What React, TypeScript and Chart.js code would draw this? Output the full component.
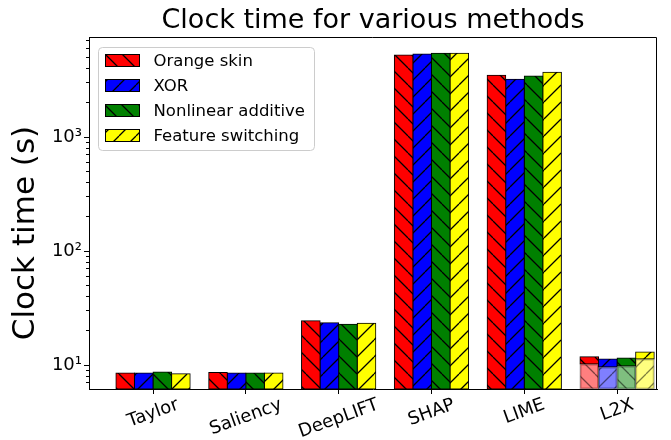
import React, { useEffect, useRef } from 'react';
import { Chart, registerables } from 'chart.js';

Chart.register(...registerables);

// ---------- data ----------
const categories = ['Taylor', 'Saliency', 'DeepLIFT', 'SHAP', 'LIME', 'L2X'];
const seriesNames = ['Orange skin', 'XOR', 'Nonlinear additive', 'Feature switching'];
// base clock time per method (for L2X: lower, lighter part)
const orangeSkin = [8.5, 8.6, 24.5, 5250, 3480, 10.2];
const xor = [8.5, 8.5, 23.5, 5350, 3210, 9.6];
const nonlinearAdditive = [8.7, 8.5, 22.8, 5420, 3430, 9.8];
const featureSwitching = [8.4, 8.5, 23.2, 5420, 3700, 11.3];
// L2X additional time stacked on top (one per series)
const l2xExtra = [1.6, 1.7, 1.7, 1.7];

const yTickValues = [7, 8, 9, 10, 20, 30, 40, 50, 60, 70, 80, 90, 100, 200, 300, 400, 500, 600, 700, 800, 900, 1000, 2000, 3000, 4000, 5000, 6000, 7000];
const yMajorTicks = [10, 100, 1000];
const yMajorLabels = ['10¹', '10²', '10³'];
const yMin = 6.16;
const yMax = 7540;
const xMin = -0.69;
const xMax = 5.43;
const titleText = 'Clock time for various methods';
const yTitleText = 'Clock time (s)';

const seriesColors = ['#ff0000', '#0000ff', '#008000', '#ffff00'];
const seriesFaded = ['rgba(255,0,0,0.5)', 'rgba(0,0,255,0.5)', 'rgba(0,128,0,0.5)', 'rgba(255,255,0,0.5)'];
const seriesHatch = ['\\', '/', '\\', '/'];

const FAMILY = "'DejaVu Sans', sans-serif";

function makeHatch(ctx: any, color: string, dir: string, lineColor: string) {
  const s = 17;
  const c = document.createElement('canvas');
  c.width = s;
  c.height = s;
  const g = c.getContext('2d') as CanvasRenderingContext2D;
  g.fillStyle = color;
  g.fillRect(0, 0, s, s);
  g.strokeStyle = lineColor;
  g.lineWidth = 1.3;
  g.beginPath();
  for (let k = -1; k <= 1; k++) {
    if (dir === '\\') {
      g.moveTo(k * s, 0);
      g.lineTo(k * s + s, s);
    } else {
      g.moveTo(k * s, s);
      g.lineTo(k * s + s, 0);
    }
  }
  g.stroke();
  return ctx.createPattern(c, 'repeat');
}

export default function App() {
  const ref = useRef<HTMLCanvasElement | null>(null);

  useEffect(() => {
    const canvas = ref.current;
    if (!canvas) return;
    const ctx = canvas.getContext('2d') as CanvasRenderingContext2D;

    const full = seriesColors.map((c, j) => makeHatch(ctx, c, seriesHatch[j], '#000'));
    const faded = seriesFaded.map((c, j) => makeHatch(ctx, c, seriesHatch[j], 'rgba(0,0,0,0.5)'));

    const baseSeries = [orangeSkin, xor, nonlinearAdditive, featureSwitching];
    const l2xIndex = categories.indexOf('L2X');

    const common = {
      borderWidth: 1,
      borderSkipped: false,
      categoryPercentage: 0.8,
      barPercentage: 1,
      inflateAmount: 0.5,
    };

    const baseDatasets = baseSeries.map((vals, j) => ({
      label: seriesNames[j],
      data: vals.map((v, i) => ({ x: i, y: v })),
      stack: 's' + j,
      backgroundColor: vals.map((_, i) => (i === l2xIndex ? faded[j] : full[j])),
      borderColor: vals.map((_, i) => (i === l2xIndex ? 'rgba(0,0,0,0.4)' : '#000')),
      ...common,
    }));
    const topDatasets = l2xExtra.map((v, j) => ({
      label: seriesNames[j] + ' (L2X)',
      data: [{ x: l2xIndex, y: v }],
      stack: 's' + j,
      backgroundColor: full[j],
      borderColor: '#000',
      ...common,
    }));

    const legendPlugin = {
      id: 'boxLegend',
      afterDatasetsDraw(chart: any) {
        const c = chart.ctx;
        const a = chart.chartArea;
        const x0 = Math.round(a.left) + 9.5;
        const y0 = Math.round(a.top) + 10.5;
        const w = 216;
        const h = 103;
        c.save();
        c.beginPath();
        const r = 4;
        c.moveTo(x0 + r, y0);
        c.lineTo(x0 + w - r, y0);
        c.arcTo(x0 + w, y0, x0 + w, y0 + r, r);
        c.lineTo(x0 + w, y0 + h - r);
        c.arcTo(x0 + w, y0 + h, x0 + w - r, y0 + h, r);
        c.lineTo(x0 + r, y0 + h);
        c.arcTo(x0, y0 + h, x0, y0 + h - r, r);
        c.lineTo(x0, y0 + r);
        c.arcTo(x0, y0, x0 + r, y0, r);
        c.closePath();
        c.fillStyle = 'rgba(255,255,255,0.8)';
        c.fill();
        c.strokeStyle = '#cccccc';
        c.lineWidth = 1;
        c.stroke();
        c.font = `16.5px ${FAMILY}`;
        c.textBaseline = 'middle';
        c.textAlign = 'left';
        seriesNames.forEach((name, j) => {
          const cy = y0 + 13 + j * 25;
          c.fillStyle = full[j];
          c.fillRect(x0 + 7, cy - 6, 34, 12);
          c.strokeStyle = '#000';
          c.strokeRect(x0 + 7, cy - 6, 34, 12);
          c.fillStyle = '#000';
          c.fillText(name, x0 + 55, cy + 1);
        });
        c.restore();
      },
    };

    const textPlugin = {
      id: 'axisTexts',
      afterDraw(chart: any) {
        const c = chart.ctx;
        const xs = chart.scales.x;
        const fs = 18;
        const ang = (20 * Math.PI) / 180;
        c.save();
        c.font = `${fs}px ${FAMILY}`;
        c.fillStyle = '#000';
        c.textAlign = 'center';
        c.textBaseline = 'middle';
        categories.forEach((lab, i) => {
          const px = xs.getPixelForValue(i);
          const wd = c.measureText(lab).width;
          const bh = wd * Math.sin(ang) + fs * 1.1 * Math.cos(ang);
          const cy = xs.top + 6 + bh / 2;
          c.save();
          c.translate(px, cy);
          c.rotate(-ang);
          c.fillText(lab, 0, 0);
          c.restore();
        });
        // y-axis title
        c.font = `31px ${FAMILY}`;
        c.save();
        c.translate(26, 233);
        c.rotate(-Math.PI / 2);
        c.fillText(yTitleText, 0, 0);
        c.restore();
        c.restore();
      },
    };

    const framePlugin = {
      id: 'frame',
      afterDraw(chart: any) {
        const c = chart.ctx;
        const a = chart.chartArea;
        c.save();
        c.strokeStyle = '#000';
        c.lineWidth = 1;
        c.beginPath();
        const t = Math.round(a.top) + 0.5;
        const rr = Math.round(a.right) - 0.5;
        c.moveTo(Math.round(a.left), t);
        c.lineTo(rr, t);
        c.lineTo(rr, Math.round(a.bottom));
        c.stroke();
        c.restore();
      },
    };

    const chart = new Chart(ctx, {
      type: 'bar',
      data: { datasets: [...baseDatasets, ...topDatasets] as any },
      options: {
        animation: false,
        responsive: false,
        devicePixelRatio: 1,
        layout: { padding: { left: 0, right: 14, top: 0, bottom: 0 } },
        plugins: {
          legend: { display: false },
          tooltip: { enabled: false },
          title: {
            display: true,
            text: titleText,
            color: '#000',
            fullSize: false,
            font: { family: FAMILY, size: 27, weight: 'normal' as any, lineHeight: 1.1 },
            padding: { top: 6, bottom: 1.3 },
          },
        },
        scales: {
          x: {
            type: 'linear',
            offset: false,
            min: xMin,
            max: xMax,
            afterBuildTicks: (s: any) => {
              s.ticks = categories.map((_, i) => ({ value: i }));
            },
            ticks: { display: false },
            grid: { offset: false, drawOnChartArea: false, drawTicks: true, tickLength: 5, tickColor: '#000', color: '#000' },
            border: { display: true, color: '#000', width: 1 },
            afterFit: (s: any) => {
              s.height = 51;
            },
          },
          y: {
            type: 'logarithmic',
            min: yMin,
            max: yMax,
            stacked: true,
            afterBuildTicks: (s: any) => {
              s.ticks = yTickValues.map((v) => ({ value: v }));
            },
            ticks: {
              autoSkip: false,
              padding: 2,
              color: '#000',
              font: { family: FAMILY, size: 18 },
              callback: (v: any) => {
                const k = yMajorTicks.indexOf(Number(v));
                return k >= 0 ? yMajorLabels[k] : '';
              },
            },
            grid: {
              drawOnChartArea: false,
              drawTicks: true,
              tickLength: 5,
              tickColor: '#000',
              color: '#000',
              tickBorderDash: (c: any) => (yMajorTicks.indexOf(c.tick && c.tick.value) >= 0 ? [] : [0, 2, 3, 100]),
            } as any,
            border: { display: true, color: '#000', width: 1 },
            afterFit: (s: any) => {
              s.width = 89;
            },
          },
        },
      },
      plugins: [legendPlugin, textPlugin, framePlugin],
    });

    return () => chart.destroy();
  }, []);

  return (
    <div style={{ position: 'absolute', left: 0, top: 0, width: 671, height: 440, background: '#fff' }}>
      <canvas ref={ref} width={671} height={440} />
    </div>
  );
}
